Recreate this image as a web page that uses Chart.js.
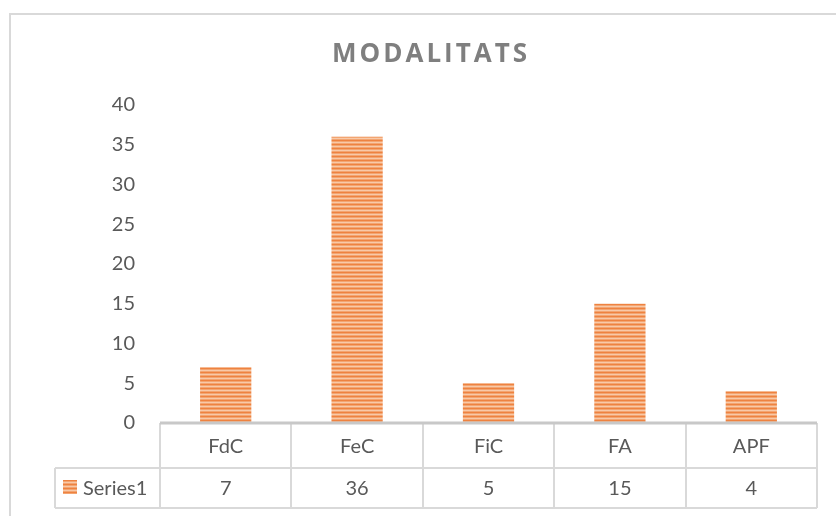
<!DOCTYPE html>
<html>
<head>
<meta charset="utf-8">
<script src="https://cdn.jsdelivr.net/npm/chart.js@4"></script>
<style>
  html, body { margin: 0; padding: 0; background: #fff; }
  #wrap { width: 836px; height: 516px; }
</style>
</head>
<body>
<div id="wrap"><canvas id="chart" width="836" height="516"></canvas></div>
<script>
const chartTitle = 'MODALITATS';
const categories = ['FdC', 'FeC', 'FiC', 'FA', 'APF'];
const seriesName = 'Series1';
const seriesValues = [7, 36, 5, 15, 4];
const yTicks = [0, 5, 10, 15, 20, 25, 30, 35, 40];

const FONT = 'Lato, "Open Sans", sans-serif';
const TEXT = '#595959';
const GRID = '#D9D9D9';

// striped orange fill, like the Excel pattern
function makeStripes() {
    const c = document.createElement('canvas');
    c.width = 4; c.height = 4;
    const g = c.getContext('2d');
    const rows = ['#EE8240', '#F3A571', '#F8C9A8', '#F3A571'];
    rows.forEach((col, i) => { g.fillStyle = col; g.fillRect(0, i, 4, 1); });
    return g.createPattern(c, 'repeat');
}
const stripes = makeStripes();

const tablePlugin = {
    id: 'tablePlugin',
    beforeDraw(chart) {
        const ctx = chart.ctx;
        ctx.save();
        ctx.fillStyle = '#fff';
        ctx.fillRect(0, 0, chart.width, chart.height);
        // outer frame
        ctx.strokeStyle = GRID;
        ctx.lineWidth = 2;
        ctx.beginPath();
        ctx.moveTo(10, chart.height + 5);
        ctx.lineTo(10, 14);
        ctx.lineTo(chart.width + 5, 14);
        ctx.stroke();
        // title, spaced out to the reference width
        ctx.fillStyle = '#7F7F7F';
        ctx.font = 'bold 26px "Open Sans", sans-serif';
        const w = ctx.measureText(chartTitle).width;
        const sp = Math.max(0, (195 - w) / (chartTitle.length - 1));
        ctx.letterSpacing = sp.toFixed(1) + 'px';
        ctx.textAlign = 'left';
        ctx.textBaseline = 'middle';
        ctx.fillText(chartTitle, 332, 55);
        ctx.restore();
    },
    afterDatasetsDraw(chart) {
        const ctx = chart.ctx;
        const x = chart.scales.x;
        const area = chart.chartArea;
        const top = area.bottom;
        const mid = top + 45;
        const bot = top + 85;
        const step = x.getPixelForValue(1) - x.getPixelForValue(0);
        const left = x.getPixelForValue(0) - step / 2;
        const right = x.getPixelForValue(categories.length - 1) + step / 2;
        const legLeft = 55;

        ctx.save();
        ctx.strokeStyle = GRID;
        ctx.lineWidth = 2;
        ctx.beginPath();
        ctx.moveTo(legLeft, mid); ctx.lineTo(right, mid);
        ctx.moveTo(legLeft, bot); ctx.lineTo(right, bot);
        ctx.moveTo(legLeft, mid); ctx.lineTo(legLeft, bot);
        for (let i = 0; i <= categories.length; i++) {
            const px = Math.round(left + i * step);
            ctx.moveTo(px, top); ctx.lineTo(px, bot);
        }
        ctx.stroke();
        // axis line
        ctx.strokeStyle = '#C8C8C8';
        ctx.lineWidth = 3;
        ctx.beginPath();
        ctx.moveTo(left, top); ctx.lineTo(right, top);
        ctx.stroke();

        ctx.fillStyle = TEXT;
        ctx.font = '20px ' + FONT;
        ctx.textAlign = 'center';
        ctx.textBaseline = 'middle';
        categories.forEach((c, i) => {
            const cx = x.getPixelForValue(i);
            ctx.fillText(c, cx, (top + mid) / 2 + 1);
            ctx.fillText(String(seriesValues[i]), cx, (mid + bot) / 2 + 1);
        });
        // legend key
        ctx.fillStyle = stripes;
        ctx.fillRect(63, 480, 14, 14);
        ctx.fillStyle = TEXT;
        ctx.textAlign = 'left';
        ctx.fillText(seriesName, 83, (mid + bot) / 2 + 1);
        ctx.restore();
    }
};

new Chart(document.getElementById('chart'), {
    type: 'bar',
    data: {
        labels: categories,
        datasets: [{
            label: seriesName,
            data: seriesValues,
            backgroundColor: stripes,
            borderWidth: 0,
            categoryPercentage: 1,
            barPercentage: 0.39
        }]
    },
    options: {
        responsive: false,
        animation: false,
        layout: { padding: { left: 10, right: 19, top: 105, bottom: 93 } },
        plugins: {
            legend: { display: false },
            title: { display: false },
            tooltip: { enabled: false }
        },
        scales: {
            x: { display: false },
            y: {
                min: 0,
                max: 40,
                afterFit(scale) { scale.width = 150; },
                afterBuildTicks(scale) { scale.ticks = yTicks.map(v => ({ value: v })); },
                grid: { display: false, drawTicks: false },
                border: { display: false },
                ticks: {
                    padding: 25,
                    color: TEXT,
                    font: { family: FONT, size: 20 }
                }
            }
        }
    },
    plugins: [tablePlugin]
});
</script>
</body>
</html>
